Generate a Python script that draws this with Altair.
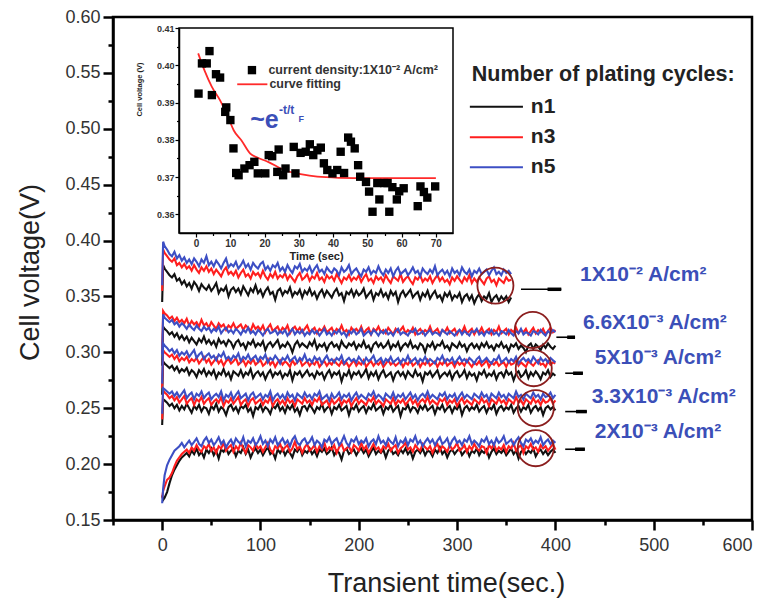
import altair as alt
import pandas as pd

# ---------------------------------------------------------------------------
# Galvanostatic transients: cell voltage in mV,
# sampled at t = 0, 1, 2.5, 5, 7.5, ... s
# ---------------------------------------------------------------------------
# 1X10^-2 A/cm^2 (recorded up to 355 s)
A_N1 = [345, 378, 375, 372, 369, 367, 370, 364, 366, 361,
        364, 359, 362, 357, 363, 360, 355, 361, 358, 356,
        360, 355, 358, 362, 353, 357, 355, 359, 350, 356,
        358, 354, 357, 352, 359, 355, 351, 357, 354, 360,
        353, 356, 350, 355, 358, 352, 354, 347, 355, 357,
        351, 355, 353, 358, 350, 354, 352, 356, 349, 355,
        352, 357, 351, 354, 348, 353, 356, 350, 355, 352,
        349, 354, 357, 351, 353, 346, 354, 352, 356, 350,
        355, 351, 353, 357, 349, 352, 355, 347, 353, 351,
        356, 350, 353, 348, 355, 351, 354, 345, 352, 355,
        350, 353, 356, 349, 352, 354, 347, 353, 350, 355,
        348, 352, 355, 349, 351, 346, 353, 350, 354, 347,
        351, 349, 353, 345, 350, 352, 347, 351, 344, 349,
        352, 346, 350, 348, 353, 345, 349, 351, 346, 350,
        347, 350, 345, 349]
A_N3 = [355, 392, 389, 386, 383, 381, 384, 378, 380, 376,
        379, 375, 377, 373, 378, 374, 371, 376, 373, 377,
        372, 375, 370, 374, 371, 368, 373, 376, 370, 372,
        369, 373, 367, 371, 374, 368, 370, 366, 372, 369,
        371, 367, 373, 368, 365, 370, 367, 372, 366, 369,
        367, 371, 365, 369, 366, 363, 368, 371, 365, 367,
        370, 364, 368, 366, 371, 365, 367, 363, 369, 366,
        368, 364, 370, 366, 362, 367, 365, 369, 364, 367,
        365, 369, 363, 367, 370, 364, 366, 362, 368, 365,
        367, 363, 369, 365, 362, 368, 366, 364, 370, 363,
        366, 368, 364, 361, 367, 365, 369, 363, 366, 364,
        368, 362, 366, 369, 364, 367, 363, 365, 361, 367,
        364, 368, 365, 362, 367, 364, 369, 362, 366, 363,
        367, 364, 361, 366, 368, 363, 365, 360, 366, 364,
        362, 367, 364, 365]
A_N5 = [360, 399, 395, 392, 388, 386, 390, 384, 387, 382,
        385, 380, 383, 379, 384, 381, 377, 383, 380, 386,
        378, 381, 377, 382, 379, 375, 380, 384, 376, 379,
        377, 381, 375, 378, 382, 376, 379, 374, 380, 377,
        375, 379, 381, 374, 377, 373, 378, 376, 380, 373,
        376, 372, 378, 374, 371, 377, 375, 379, 372, 375,
        373, 377, 371, 375, 378, 372, 374, 370, 376, 373,
        371, 375, 373, 369, 376, 372, 374, 378, 370, 373,
        375, 371, 368, 374, 372, 376, 370, 373, 371, 377,
        372, 369, 374, 371, 375, 368, 373, 376, 370, 372,
        374, 369, 372, 376, 371, 373, 368, 375, 372, 370,
        374, 371, 377, 369, 372, 374, 370, 373, 368, 375,
        371, 373, 369, 376, 372, 370, 374, 368, 373, 371,
        375, 370, 372, 374, 369, 373, 376, 370, 372, 369,
        374, 371, 373, 370]

# 6.6X10^-3 A/cm^2
B_N1 = [288, 323, 321, 319, 316, 318, 314, 317, 312, 315,
        311, 314, 309, 313, 310, 307, 312, 309, 314, 308,
        311, 307, 310, 305, 312, 308, 310, 306, 311, 309,
        304, 309, 311, 306, 308, 303, 309, 307, 311, 305,
        308, 306, 310, 302, 307, 309, 305, 308, 311, 304,
        307, 305, 309, 306, 300, 307, 310, 305, 308, 306,
        304, 309, 306, 311, 303, 307, 305, 308, 302, 307,
        309, 305, 307, 303, 310, 306, 304, 308, 306, 309,
        303, 307, 305, 310, 304, 306, 301, 307, 309, 305,
        308, 304, 306, 310, 303, 307, 305, 309, 302, 306,
        308, 305, 310, 304, 306, 303, 308, 306, 300, 307,
        305, 309, 303, 307, 306, 310, 304, 306, 302, 308,
        306, 304, 309, 305, 307, 301, 306, 308, 304, 307,
        303, 308, 305, 309, 304, 306, 302, 307, 305, 309,
        304, 306, 301, 307, 305, 308, 303, 306, 304, 300,
        306, 308, 303, 307, 305, 302, 307, 304, 308, 305,
        303, 306]
B_N3 = [300, 337, 335, 333, 330, 332, 328, 331, 327, 329,
        326, 330, 324, 328, 325, 327, 323, 329, 324, 326,
        322, 327, 324, 321, 326, 323, 325, 320, 324, 322,
        326, 321, 323, 325, 320, 324, 322, 319, 325, 321,
        323, 320, 324, 318, 322, 325, 319, 321, 323, 318,
        322, 320, 324, 317, 321, 323, 319, 322, 318, 321,
        324, 318, 320, 322, 317, 321, 319, 323, 318, 320,
        322, 317, 321, 319, 324, 318, 320, 316, 322, 319,
        321, 318, 323, 317, 320, 322, 316, 321, 319, 323,
        318, 320, 317, 322, 319, 316, 321, 318, 320, 323,
        317, 320, 318, 322, 316, 319, 321, 317, 320, 318,
        323, 317, 319, 321, 316, 320, 318, 322, 317, 319,
        321, 316, 320, 318, 323, 317, 319, 321, 316, 320,
        318, 322, 317, 319, 321, 316, 320, 318, 323, 317,
        319, 321, 316, 320, 318, 322, 317, 320, 318, 321,
        316, 319, 322, 317, 320, 318, 321, 316, 319, 322,
        318, 320]
B_N5 = [298, 334, 331, 329, 327, 329, 325, 327, 323, 326,
        324, 321, 325, 322, 320, 324, 321, 319, 323, 320,
        322, 318, 321, 319, 323, 317, 320, 322, 318, 320,
        317, 321, 319, 316, 320, 318, 322, 317, 319, 316,
        320, 318, 315, 319, 321, 317, 318, 320, 316, 319,
        317, 320, 315, 318, 321, 316, 319, 317, 320, 315,
        318, 316, 320, 317, 319, 315, 318, 321, 316, 318,
        315, 319, 317, 320, 316, 318, 314, 319, 317, 320,
        316, 318, 321, 315, 317, 319, 316, 320, 318, 315,
        319, 317, 320, 316, 318, 315, 319, 321, 316, 318,
        317, 315, 319, 318, 321, 316, 317, 319, 315, 318,
        320, 316, 318, 317, 315, 320, 318, 316, 319, 317,
        315, 318, 320, 316, 319, 317, 315, 319, 318, 321,
        316, 318, 315, 319, 317, 320, 316, 318, 315, 319,
        318, 316, 320, 317, 315, 319, 317, 321, 316, 318,
        317, 315, 319, 318, 316, 320, 317, 315, 319, 317,
        320, 318]

# 5X10^-3 A/cm^2
C_N1 = [262, 292, 290, 288, 286, 288, 284, 287, 282, 285,
        283, 286, 280, 284, 282, 278, 284, 281, 285, 279,
        283, 280, 284, 277, 282, 280, 285, 279, 282, 276,
        283, 281, 279, 284, 278, 282, 280, 285, 277, 281,
        283, 279, 282, 276, 281, 284, 278, 282, 280, 283,
        277, 281, 279, 284, 275, 282, 280, 283, 278, 281,
        284, 279, 281, 277, 283, 280, 282, 276, 281, 284,
        278, 282, 280, 283, 274, 281, 279, 284, 277, 282,
        280, 283, 278, 281, 285, 277, 282, 279, 283, 276,
        281, 284, 278, 280, 282, 275, 281, 283, 279, 282,
        277, 283, 280, 278, 284, 279, 281, 274, 282, 280,
        283, 278, 281, 284, 277, 280, 282, 279, 283, 276,
        281, 283, 278, 280, 284, 277, 282, 279, 281, 275,
        282, 280, 284, 278, 281, 279, 283, 276, 281, 282,
        278, 284, 280, 282, 275, 281, 283, 278, 280, 284,
        277, 282, 279, 283, 280, 276, 282, 280, 284, 278,
        281, 279]
C_N3 = [268, 302, 300, 298, 296, 298, 294, 297, 292, 295,
        293, 296, 291, 294, 292, 295, 290, 293, 296, 291,
        294, 289, 292, 295, 290, 293, 288, 292, 294, 290,
        292, 295, 289, 291, 293, 288, 292, 290, 294, 289,
        291, 293, 288, 290, 294, 289, 292, 287, 291, 293,
        289, 292, 290, 287, 293, 289, 291, 294, 288, 290,
        292, 288, 291, 289, 293, 287, 290, 292, 288, 291,
        289, 293, 290, 288, 292, 289, 291, 287, 290, 293,
        288, 291, 289, 293, 287, 290, 292, 288, 291, 289,
        292, 287, 290, 293, 289, 291, 288, 290, 292, 287,
        291, 289, 293, 288, 290, 292, 287, 291, 289, 293,
        288, 290, 292, 287, 291, 289, 293, 288, 290, 291,
        287, 292, 289, 291, 288, 293, 290, 287, 291, 289,
        292, 288, 290, 293, 287, 291, 289, 292, 288, 290,
        291, 287, 292, 289, 290, 293, 288, 291, 289, 287,
        292, 290, 288, 291, 293, 289, 290, 287, 292, 289,
        291, 290]
C_N5 = [272, 308, 306, 304, 301, 303, 299, 302, 297, 300,
        298, 301, 296, 299, 302, 295, 298, 300, 294, 297,
        299, 295, 297, 293, 298, 296, 300, 294, 296, 293,
        297, 295, 299, 292, 296, 294, 298, 293, 295, 297,
        292, 296, 294, 298, 291, 295, 293, 297, 294, 290,
        295, 293, 297, 292, 294, 296, 291, 295, 293, 298,
        292, 294, 291, 296, 293, 295, 290, 294, 297, 292,
        294, 291, 295, 293, 297, 290, 293, 295, 292, 294,
        291, 296, 293, 290, 295, 292, 294, 297, 291, 293,
        295, 290, 294, 292, 296, 291, 293, 295, 290, 294,
        292, 297, 291, 293, 295, 290, 294, 292, 296, 291,
        294, 292, 290, 295, 293, 297, 291, 294, 292, 295,
        290, 293, 296, 292, 294, 291, 295, 293, 290, 294,
        296, 291, 293, 295, 292, 290, 294, 293, 297, 291,
        293, 295, 291, 294, 292, 296, 290, 293, 295, 292,
        294, 291, 296, 293, 290, 295, 292, 294, 291, 295,
        293, 291]

# 3.3X10^-3 A/cm^2
D_N1 = [235, 258, 257, 255, 252, 254, 250, 253, 248, 252,
        249, 254, 250, 246, 252, 249, 253, 247, 251, 250,
        245, 252, 249, 254, 247, 251, 249, 244, 251, 253,
        248, 251, 246, 252, 250, 253, 247, 250, 243, 251,
        249, 253, 247, 251, 249, 245, 252, 250, 254, 248,
        251, 246, 252, 249, 253, 247, 250, 244, 251, 252,
        248, 253, 250, 246, 251, 249, 254, 247, 250, 252,
        245, 251, 249, 253, 248, 250, 252, 244, 251, 249,
        253, 247, 250, 252, 246, 251, 249, 254, 248, 250,
        252, 245, 251, 249, 253, 247, 250, 252, 243, 250,
        249, 253, 247, 251, 250, 246, 252, 249, 253, 248,
        250, 252, 245, 251, 249, 253, 247, 250, 252, 246,
        251, 249, 253, 244, 250, 252, 248, 251, 249, 253,
        247, 250, 252, 246, 251, 249, 253, 245, 250, 252,
        248, 251, 249, 253, 246, 250, 252, 247, 251, 249,
        253, 246, 250, 252, 248, 251, 244, 250, 252, 249,
        251, 248]
D_N3 = [240, 266, 264, 262, 259, 261, 257, 260, 255, 258,
        261, 254, 257, 259, 253, 258, 256, 260, 254, 257,
        259, 253, 256, 258, 255, 260, 252, 257, 255, 259,
        254, 257, 260, 253, 256, 258, 252, 257, 259, 254,
        256, 258, 253, 257, 255, 260, 252, 256, 258, 254,
        257, 253, 259, 255, 257, 252, 258, 256, 254, 259,
        255, 257, 253, 258, 256, 260, 253, 255, 257, 252,
        258, 254, 256, 259, 253, 257, 255, 258, 252, 256,
        259, 254, 257, 255, 253, 258, 256, 260, 254, 257,
        255, 252, 258, 256, 254, 259, 253, 257, 255, 258,
        253, 256, 259, 254, 257, 252, 256, 258, 255, 260,
        254, 257, 255, 253, 258, 256, 259, 253, 257, 255,
        258, 252, 256, 259, 254, 257, 255, 253, 258, 256,
        254, 259, 255, 257, 252, 258, 256, 254, 259, 255,
        257, 253, 258, 256, 254, 260, 255, 257, 253, 258,
        256, 254, 259, 255, 257, 253, 258, 255, 256, 259,
        254, 257]
D_N5 = [245, 268, 267, 265, 263, 265, 261, 264, 260, 263,
        266, 259, 262, 264, 258, 263, 261, 265, 259, 262,
        264, 258, 261, 263, 260, 265, 257, 262, 260, 264,
        258, 262, 265, 259, 261, 263, 257, 262, 264, 259,
        261, 263, 258, 262, 260, 265, 257, 261, 263, 259,
        262, 258, 264, 260, 262, 257, 263, 261, 259, 264,
        260, 262, 258, 263, 261, 265, 258, 260, 262, 257,
        263, 259, 261, 264, 258, 262, 260, 263, 257, 261,
        264, 259, 262, 260, 258, 263, 261, 265, 259, 262,
        260, 257, 263, 261, 259, 264, 258, 262, 260, 263,
        258, 261, 264, 259, 262, 257, 261, 263, 260, 265,
        259, 262, 260, 258, 263, 261, 264, 258, 262, 260,
        263, 257, 261, 264, 259, 262, 260, 258, 263, 261,
        259, 264, 260, 262, 257, 263, 261, 259, 264, 260,
        262, 258, 263, 261, 259, 265, 260, 262, 258, 263,
        261, 259, 264, 260, 262, 258, 263, 260, 261, 264,
        259, 262]

# 2X10^-3 A/cm^2
E_N1 = [172, 168, 170, 175, 183, 190, 195, 199, 203, 206,
        208, 210, 207, 212, 209, 214, 208, 211, 206, 213,
        210, 214, 208, 212, 205, 213, 211, 215, 209, 212,
        214, 207, 212, 210, 215, 209, 213, 206, 211, 214,
        210, 213, 208, 212, 215, 209, 211, 205, 213, 210,
        214, 208, 212, 210, 206, 213, 211, 215, 208, 212,
        210, 214, 209, 212, 207, 213, 211, 214, 209, 211,
        215, 208, 212, 210, 204, 212, 214, 209, 211, 213,
        208, 212, 214, 210, 213, 207, 211, 215, 209, 212,
        210, 213, 206, 212, 214, 209, 211, 208, 213, 210,
        214, 209, 212, 205, 211, 213, 210, 214, 208, 212,
        211, 207, 213, 210, 215, 209, 212, 206, 211, 213,
        209, 212, 214, 208, 211, 213, 207, 212, 210, 214,
        208, 212, 210, 213, 206, 211, 214, 209, 212, 210,
        213, 208, 211, 214, 209, 212, 205, 211, 213, 209,
        212, 210, 214, 207, 211, 213, 209, 212, 208, 211,
        213, 210]
E_N3 = [170, 176, 180, 186, 188, 192, 198, 203, 206, 209,
        211, 213, 210, 215, 212, 217, 213, 211, 216, 214,
        218, 212, 215, 210, 216, 214, 219, 212, 215, 217,
        211, 216, 213, 219, 214, 210, 217, 215, 212, 218,
        214, 216, 211, 215, 219, 213, 210, 216, 214, 218,
        212, 215, 217, 211, 214, 220, 213, 216, 210, 215,
        218, 212, 214, 217, 211, 216, 213, 219, 212, 215,
        213, 217, 210, 215, 218, 212, 214, 216, 211, 217,
        215, 212, 219, 213, 216, 210, 214, 218, 213, 215,
        211, 216, 214, 218, 212, 215, 217, 210, 214, 216,
        219, 213, 215, 211, 217, 214, 212, 218, 215, 213,
        216, 210, 215, 218, 212, 216, 214, 211, 217, 213,
        215, 219, 212, 214, 217, 211, 216, 213, 218, 214,
        212, 216, 215, 210, 217, 214, 218, 212, 215, 213,
        217, 211, 216, 214, 219, 212, 215, 217, 210, 216,
        214, 218, 213, 215, 211, 217, 214, 216, 212, 215,
        218, 213]
E_N5 = [165, 178, 190, 199, 204, 208, 212, 214, 216, 219,
        215, 218, 221, 217, 220, 223, 218, 216, 221, 224,
        219, 222, 217, 220, 224, 218, 221, 215, 219, 222,
        217, 223, 220, 218, 224, 216, 221, 219, 223, 217,
        220, 225, 218, 221, 216, 222, 219, 224, 217, 220,
        223, 218, 221, 216, 222, 225, 219, 217, 221, 223,
        218, 220, 224, 217, 221, 219, 215, 222, 220, 224,
        218, 221, 223, 217, 220, 225, 219, 216, 222, 220,
        224, 218, 221, 219, 223, 216, 220, 222, 218, 225,
        219, 221, 217, 223, 220, 218, 224, 216, 221, 219,
        223, 217, 222, 220, 225, 218, 221, 216, 220, 223,
        219, 222, 217, 221, 224, 218, 220, 223, 216, 221,
        224, 219, 221, 217, 222, 220, 225, 218, 221, 219,
        216, 222, 220, 224, 218, 221, 217, 223, 219, 221,
        225, 218, 220, 222, 217, 221, 224, 219, 216, 222,
        220, 223, 218, 221, 219, 224, 217, 220, 222, 218,
        221, 219]

CYCLES = ["n1", "n3", "n5"]
CYCLE_COLORS = ["#111111", "#ff1e1e", "#3d4fc4"]
TRACES = {
    "1X10-2": (A_N1, A_N3, A_N5),
    "6.6X10-3": (B_N1, B_N3, B_N5),
    "5X10-3": (C_N1, C_N3, C_N5),
    "3.3X10-3": (D_N1, D_N3, D_N5),
    "2X10-3": (E_N1, E_N3, E_N5),
}

# Marked end-of-run regions (circles) and their labels
MARK_T = [339, 377, 378, 380, 380]
MARK_V = [0.3597, 0.320, 0.2858, 0.250, 0.2142]
LEAD_T1 = [365, 401, 410, 410, 410]
LEAD_T2 = [406, 420, 428, 432, 430]
LEAD_TAB = [392, 412, 418, 421, 420]
LEAD_V = [0.3564, 0.3135, 0.2813, 0.247, 0.2133]
LABEL_TEXT = ["1X10\u207b\u00b2  A/cm\u00b2", "6.6X10\u207b\u00b3  A/cm\u00b2",
              "5X10\u207b\u00b3 A/cm\u00b2", "3.3X10\u207b\u00b3 A/cm\u00b2",
              "2X10\u207b\u00b3 A/cm\u00b2"]
LABEL_T = [425, 428, 440, 437, 440]
LABEL_V = [0.369, 0.3263, 0.295, 0.260, 0.2288]

# Legend (number of plating cycles)
LEG_TITLE = "Number of plating cycles:"
LEG_TITLE_POS = (315, 0.548)
LEG_LINE_T = (313, 367)
LEG_TEXT_T = 375
LEG_V = [0.5198, 0.4924, 0.4656]

# Inset: initial transient at 1X10^-2 A/cm^2 and its exponential fit
INSET_T = [0.7, 1.7, 3.1, 3.9, 4.6, 5.8, 7.0, 8.5, 8.8, 10.0, 10.9, 11.7, 12.4,
           14.1, 15.6, 17.0, 18.0, 20.2, 21.2, 22.2, 23.7, 24.1, 25.4, 26.1,
           28.5, 29.0, 30.5, 32.0, 33.2, 34.2, 35.4, 36.4, 37.3, 38.3, 39.8,
           41.2, 42.2, 43.2, 44.4, 45.2, 46.3, 47.3, 47.9, 49.6, 50.5, 51.5,
           52.9, 53.5, 54.9, 55.9, 56.4, 57.3, 58.6, 59.3, 60.6, 64.7, 65.5,
           66.5, 67.5, 69.8]
INSET_V = [0.3924, 0.4005, 0.4005, 0.4038, 0.3920, 0.3976, 0.3967, 0.3875,
           0.3887, 0.3853, 0.3777, 0.3711, 0.3705, 0.3723, 0.3732, 0.3741,
           0.3710, 0.3710, 0.3759, 0.3756, 0.3714, 0.3774, 0.3705, 0.3723,
           0.3781, 0.3710, 0.3765, 0.3768, 0.3788, 0.3759, 0.3772, 0.3779,
           0.3737, 0.3719, 0.3710, 0.3719, 0.3768, 0.3711, 0.3806, 0.3795,
           0.3777, 0.3732, 0.3701, 0.3687, 0.3661, 0.3607, 0.3684, 0.3640,
           0.3684, 0.3684, 0.3607, 0.3673, 0.3640, 0.3662, 0.3670, 0.3622,
           0.3675, 0.3660, 0.3645, 0.3675]
FIT_T = [0.6, 2.5, 4.6, 7.0, 9.5, 11.0, 13.2, 15.8, 18.0, 21.0, 25.6, 30.5,
         35.4, 42.0, 50.0, 60.0, 70.0]
FIT_V = [0.4032, 0.3985, 0.3942, 0.3906, 0.3857, 0.3825, 0.3799, 0.3763,
         0.3752, 0.3741, 0.3719, 0.3708, 0.3701, 0.3698, 0.3697, 0.3697,
         0.3697]

FONT = "Liberation Sans"
LABEL_BLUE = "#3b4fb8"
CIRCLE_RED = "#8b1e1e"

# ---------------------------------------------------------------------------
# Main panel
# ---------------------------------------------------------------------------
rows = []
for density, series in TRACES.items():
    for cycle, values in zip(CYCLES, series):
        times = [0, 1] + [2.5 * i for i in range(1, len(values) - 1)]
        for t, mv in zip(times, values):
            rows.append({"t": t, "v": mv / 1000.0, "cycle": cycle,
                         "density": density})
traces = pd.DataFrame(rows)

x_scale = alt.Scale(domain=[-50, 600], nice=False, zero=False)
y_scale = alt.Scale(domain=[0.15, 0.60], nice=False, zero=False)

x_axis = alt.Axis(
    values=[-50, 0, 50, 100, 150, 200, 250, 300, 350, 400, 450, 500, 550, 600],
    labelExpr="datum.value % 100 === 0 ? datum.label : ''",
    tickSize={"condition": {"test": "datum.value % 100 === 0", "value": 10},
              "value": 5},
    title="Transient time(sec.)", titleFontSize=27, titleFontWeight="normal",
    titleX=333, titleY=63, titleBaseline="middle",
    labelFontSize=18, labelPadding=6, labelColor="#333333",
)
y_axis = alt.Axis(
    values=[0.15, 0.175, 0.2, 0.225, 0.25, 0.275, 0.3, 0.325, 0.35, 0.375,
            0.4, 0.425, 0.45, 0.475, 0.5, 0.525, 0.55, 0.575, 0.6],
    labelExpr="round(datum.value * 1000) % 50 === 0 ? format(datum.value, '.2f') : ''",
    tickSize={"condition": {"test": "round(datum.value * 1000) % 50 === 0",
                            "value": 10}, "value": 5},
    title="Cell voltage(V)", titleFontSize=27, titleFontWeight="normal",
    titleX=-83, titleY=255, titleBaseline="middle",
    labelFontSize=18, labelPadding=3, labelColor="#333333",
)
X_MAIN = alt.X("t:Q", scale=x_scale, axis=x_axis)
Y_MAIN = alt.Y("v:Q", scale=y_scale, axis=y_axis)

trace_layers = [
    alt.Chart(traces[traces.cycle == cyc])
    .mark_line(color=col, strokeWidth=2.1)
    .encode(x=X_MAIN, y=Y_MAIN, detail="density:N")
    for cyc, col in zip(CYCLES, CYCLE_COLORS)
]

marks_df = pd.DataFrame({"t": MARK_T, "v": MARK_V})
circles = alt.Chart(marks_df).mark_point(
    shape="circle", filled=False, size=1300, color=CIRCLE_RED, strokeWidth=1.8,
    opacity=1,
).encode(x=X_MAIN, y=Y_MAIN)

lead_df = pd.DataFrame({"t": LEAD_T1, "t2": LEAD_T2, "tab": LEAD_TAB, "v": LEAD_V})
leads = alt.Chart(lead_df).mark_rule(color="black", strokeWidth=1.6).encode(
    x=X_MAIN, x2="t2:Q", y=Y_MAIN)
lead_tabs = alt.Chart(lead_df).mark_rule(color="black", strokeWidth=3.5).encode(
    x=alt.X("tab:Q", scale=x_scale, axis=x_axis), x2="t2:Q", y=Y_MAIN)

label_df = pd.DataFrame({"t": LABEL_T, "v": LABEL_V, "text": LABEL_TEXT})
labels = alt.Chart(label_df).mark_text(
    align="left", baseline="middle", font=FONT, fontSize=21, fontWeight="bold",
    color=LABEL_BLUE,
).encode(x=X_MAIN, y=Y_MAIN, text="text:N")

leg_title_df = pd.DataFrame({"t": [LEG_TITLE_POS[0]], "v": [LEG_TITLE_POS[1]],
                             "text": [LEG_TITLE]})
leg_title = alt.Chart(leg_title_df).mark_text(
    align="left", baseline="middle", font=FONT, fontSize=21.5, fontWeight="bold",
    color="#222222",
).encode(x=X_MAIN, y=Y_MAIN, text="text:N")

leg_df = pd.DataFrame({"t": [LEG_LINE_T[0]] * 3, "t2": [LEG_LINE_T[1]] * 3,
                       "tt": [LEG_TEXT_T] * 3, "v": LEG_V, "cycle": CYCLES})
leg_lines = alt.Chart(leg_df).mark_rule(strokeWidth=2).encode(
    x=X_MAIN, x2="t2:Q", y=Y_MAIN,
    color=alt.Color("cycle:N", scale=alt.Scale(domain=CYCLES, range=CYCLE_COLORS),
                    legend=None),
)
leg_text = alt.Chart(leg_df).mark_text(
    align="left", baseline="middle", font=FONT, fontSize=21, fontWeight="bold",
    color="#222222",
).encode(x=alt.X("tt:Q", scale=x_scale, axis=x_axis), y=Y_MAIN, text="cycle:N")

main = alt.layer(*trace_layers, circles, leads, lead_tabs, labels, leg_title,
                 leg_lines, leg_text)

# ---------------------------------------------------------------------------
# Inset panel (own scales, placed inside the upper-left of the plot area)
# ---------------------------------------------------------------------------
xi_scale = alt.Scale(domain=[-5, 75], range=[66, 340], nice=False, zero=False)
yi_scale = alt.Scale(domain=[0.355, 0.41], range=[216, 11], nice=False, zero=False)
xi_axis = alt.Axis(
    orient="bottom", offset=-287, zindex=1,
    values=[0, 5, 10, 15, 20, 25, 30, 35, 40, 45, 50, 55, 60, 65, 70],
    labelExpr="datum.value % 10 === 0 ? datum.label : ''",
    tickSize={"condition": {"test": "datum.value % 10 === 0", "value": 4},
              "value": 2.5},
    domainWidth=1.5, tickWidth=1.2, labelFontSize=10, labelFontWeight="bold",
    labelPadding=1, labelColor="#333333",
    title="Time (sec)", titleFontSize=11, titleFontWeight="bold", titlePadding=2,
    titleColor="#222222",
)
yi_axis = alt.Axis(
    orient="left", offset=-66, zindex=1,
    values=[0.36, 0.365, 0.37, 0.375, 0.38, 0.385, 0.39, 0.395, 0.4, 0.405, 0.41],
    labelExpr="round(datum.value * 1000) % 10 === 0 ? format(datum.value, '.2f') : ''",
    tickSize={"condition": {"test": "round(datum.value * 1000) % 10 === 0",
                            "value": 4}, "value": 2.5},
    domainWidth=1.5, tickWidth=1.2, labelFontSize=9, labelFontWeight="bold",
    labelPadding=1, labelColor="#333333",
    title="Cell voltage (V)", titleFontSize=7.5, titleFontWeight="bold",
    titleX=-40, titleY=72, titleBaseline="middle", titleColor="#222222",
)
X_IN = alt.X("ti:Q", scale=xi_scale, axis=xi_axis)
Y_IN = alt.Y("vi:Q", scale=yi_scale, axis=yi_axis)

frame_df = pd.DataFrame({"ti": [-5], "ti2": [75], "vi": [0.355], "vi2": [0.41]})
frame = alt.Chart(frame_df).mark_rect(
    fill="white", stroke="black", strokeWidth=1.5).encode(
    x=X_IN, x2="ti2:Q", y=Y_IN, y2="vi2:Q")

pts_df = pd.DataFrame({"ti": INSET_T, "vi": INSET_V})
pts = alt.Chart(pts_df).mark_point(
    shape="square", filled=True, size=70, color="black", opacity=1).encode(
    x=X_IN, y=Y_IN)

fit_df = pd.DataFrame({"ti": FIT_T, "vi": FIT_V})
fit = alt.Chart(fit_df).mark_line(
    color="#ff2a2a", strokeWidth=1.8, interpolate="monotone").encode(x=X_IN, y=Y_IN)

key_pt = alt.Chart(pd.DataFrame({"ti": [16.3], "vi": [0.3987]})).mark_point(
    shape="square", filled=True, size=70, color="black", opacity=1).encode(
    x=X_IN, y=Y_IN)
key_line = alt.Chart(pd.DataFrame({"ti": [12.0], "ti2": [20.8], "vi": [0.3949]})
                     ).mark_rule(color="#ff2a2a", strokeWidth=1.8).encode(
    x=X_IN, x2="ti2:Q", y=Y_IN)
key_text = alt.Chart(pd.DataFrame({
    "ti": [21.1, 21.4], "vi": [0.3987, 0.3949],
    "text": ["current density:1X10\u207b\u00b2 A/cm\u00b2", "curve fitting"]})
).mark_text(align="left", baseline="middle", font=FONT, fontSize=12.5,
            fontWeight="bold", color="#333333").encode(x=X_IN, y=Y_IN, text="text:N")

eq_df = pd.DataFrame({"ti": [15.8, 24.2, 29.9], "vi": [0.3853, 0.3880, 0.3857],
                      "text": ["~e", "-t/t", "F"], "size": [25, 12, 9]})
eq = alt.Chart(eq_df).mark_text(
    align="left", baseline="middle", font=FONT, fontWeight="bold",
    color=LABEL_BLUE).encode(
    x=X_IN, y=Y_IN, text="text:N",
    size=alt.Size("size:Q", scale=None, legend=None))

inset = alt.layer(frame, fit, pts, key_pt, key_line, key_text, eq)

chart = (
    alt.layer(main, inset)
    .resolve_scale(x="independent", y="independent")
    .properties(width=639, height=503, autosize="none",
                padding={"left": 113, "top": 17, "right": 21, "bottom": 83},
                background="white")
    .configure_view(stroke="black", strokeWidth=2.5)
    .configure_axis(grid=False, domainColor="black", domainWidth=2.5,
                    tickColor="black", tickWidth=2.5, labelFont=FONT,
                    titleFont=FONT, titleColor="#222222")
)

chart.save("out.html", embed_options={"renderer": "svg", "actions": False})
